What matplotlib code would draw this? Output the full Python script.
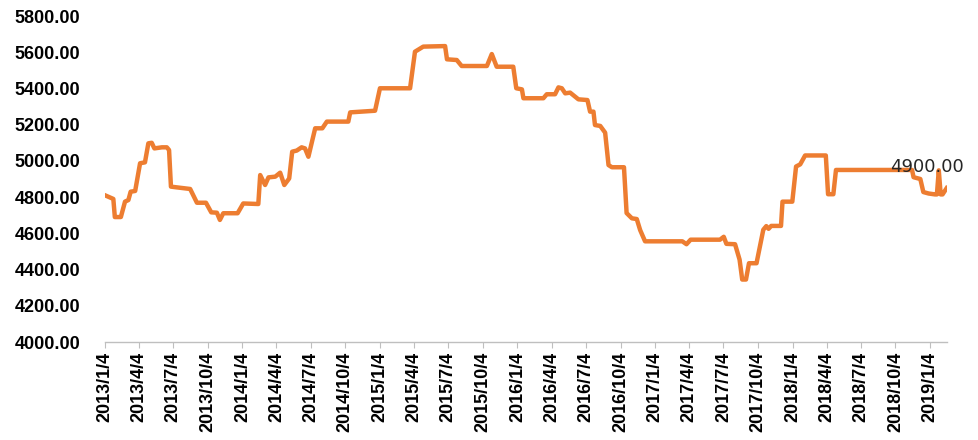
import matplotlib
matplotlib.use("Agg")
import matplotlib.pyplot as plt
import pandas as pd

LINE = "#ED7D31"
AXIS = "#BFBFBF"

# weekly price series (change points)
dates = [
    "2013-01-04", "2013-01-15", "2013-01-26", "2013-01-30", "2013-02-15",
    "2013-02-26", "2013-03-07", "2013-03-13", "2013-03-25", "2013-04-07",
    "2013-04-20", "2013-04-29", "2013-05-08", "2013-05-15", "2013-06-04",
    "2013-06-17", "2013-06-23", "2013-06-28", "2013-07-13", "2013-08-18",
    "2013-09-05", "2013-09-29", "2013-10-13", "2013-10-28", "2013-11-05",
    "2013-11-14", "2013-12-22", "2014-01-06", "2014-02-15", "2014-02-20",
    "2014-03-05", "2014-03-14", "2014-04-01", "2014-04-14", "2014-04-25",
    "2014-05-08", "2014-05-16", "2014-05-28", "2014-06-10", "2014-06-19",
    "2014-06-28", "2014-07-16", "2014-08-04", "2014-08-16", "2014-10-12",
    "2014-10-17", "2014-12-22", "2015-01-04", "2015-03-25", "2015-04-07",
    "2015-04-29", "2015-06-26", "2015-07-01", "2015-07-27", "2015-08-09",
    "2015-10-15", "2015-10-28", "2015-11-10", "2015-12-24", "2016-01-01",
    "2016-01-16", "2016-01-20", "2016-03-13", "2016-03-22", "2016-04-13",
    "2016-04-22", "2016-05-01", "2016-05-10", "2016-05-23", "2016-06-14",
    "2016-07-08", "2016-07-15", "2016-07-24", "2016-07-28", "2016-08-11",
    "2016-08-24", "2016-09-02", "2016-09-11", "2016-10-13", "2016-10-20",
    "2016-11-03", "2016-11-16", "2016-11-25", "2016-12-08", "2017-03-17",
    "2017-03-28", "2017-04-08", "2017-06-25", "2017-07-05", "2017-07-12",
    "2017-08-04", "2017-08-16", "2017-08-23", "2017-09-02", "2017-09-10",
    "2017-09-30", "2017-10-18", "2017-10-26", "2017-11-01", "2017-11-08",
    "2017-12-04", "2017-12-08", "2018-01-03", "2018-01-13", "2018-01-24",
    "2018-02-06", "2018-04-02", "2018-04-08", "2018-04-22", "2018-04-29",
    "2018-11-17", "2018-11-21", "2018-12-09", "2018-12-17", "2018-12-31",
    "2019-01-17", "2019-01-22", "2019-01-27", "2019-02-01", "2019-02-06",
    "2019-02-17",
]
prices = [
    4810, 4800, 4790, 4690, 4690,
    4775, 4784, 4830, 4834, 4987,
    4992, 5097, 5100, 5069, 5075,
    5075, 5060, 4858, 4854, 4845,
    4769, 4769, 4716, 4714, 4674,
    4711, 4711, 4765, 4762, 4922,
    4867, 4909, 4913, 4935, 4867,
    4903, 5051, 5057, 5075, 5069,
    5023, 5180, 5180, 5217, 5217,
    5268, 5277, 5401, 5401, 5603,
    5631, 5634, 5561, 5557, 5524,
    5524, 5590, 5520, 5520, 5401,
    5395, 5346, 5346, 5368, 5368,
    5406, 5401, 5373, 5377, 5340,
    5336, 5272, 5272, 5198, 5193,
    5156, 4977, 4965, 4965, 4712,
    4683, 4679, 4618, 4556, 4556,
    4540, 4565, 4565, 4581, 4542,
    4540, 4455, 4345, 4345, 4435,
    4435, 4620, 4640, 4625, 4641,
    4641, 4775, 4775, 4969, 4981,
    5030, 5030, 4816, 4816, 4950,
    4950, 4910, 4900, 4828, 4820,
    4815, 4815, 4948, 4815, 4815,
    4850,
]

label_text = "4900.00"
label_date = "2018-12-27"
label_value = 4966

x = pd.to_datetime(dates)
ticks = pd.date_range("2013-01-04", periods=25, freq=pd.DateOffset(months=3))
tick_labels = [f"{d.year}/{d.month}/{d.day}" for d in ticks]

fig = plt.figure(figsize=(9.79, 4.40), dpi=100)
ax = fig.add_axes([0.1073, 0.2227, 0.967 - 0.1073, 0.9636 - 0.2227])

ax.plot(x, prices, color=LINE, linewidth=3.2, solid_joinstyle="round")
ax.text(pd.Timestamp(label_date), label_value, label_text,
        ha="center", va="center", fontsize=13, family="DejaVu Sans", color="#262626")

ax.set_xlim(pd.Timestamp("2013-01-04"), pd.Timestamp("2019-02-17"))
ax.set_ylim(4000, 5800)
ax.set_yticks(range(4000, 5801, 200))
ax.set_yticklabels([f"{v:.2f}" for v in range(4000, 5801, 200)],
                   fontsize=13, fontweight="bold", family="Liberation Sans")
ax.set_xticks(ticks)
ax.set_xticklabels(tick_labels, rotation=90, fontsize=13, fontweight="bold",
                   family="Liberation Sans")

for side in ("top", "right", "left"):
    ax.spines[side].set_visible(False)
ax.spines["bottom"].set_color(AXIS)
ax.spines["bottom"].set_linewidth(1.0)
ax.tick_params(axis="y", length=0, pad=18)
ax.tick_params(axis="x", length=4, color=AXIS, pad=3)

fig.savefig("out.png", dpi=100)
